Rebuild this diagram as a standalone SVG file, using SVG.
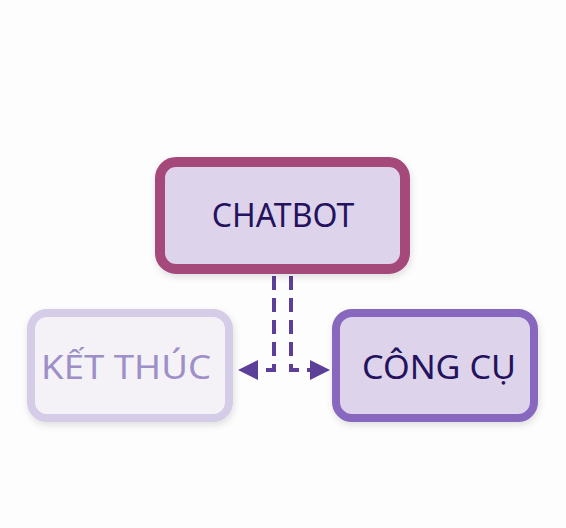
<svg xmlns="http://www.w3.org/2000/svg" width="566" height="528" viewBox="0 0 566 528">
<defs>
<filter id="sh" x="-10%" y="-10%" width="130%" height="140%">
<feDropShadow dx="1" dy="3" stdDeviation="3.5" flood-color="#000" flood-opacity="0.12"/>
</filter>
<marker id="ah" viewBox="0 0 10 10" refX="9" refY="5" markerWidth="5" markerHeight="5" orient="auto" markerUnits="strokeWidth">
<path d="M0,0 L10,5 L0,10 Z" fill="#5B3F99"/>
</marker>
<style>
.lbl{font-family:"Noto Sans","Open Sans","DejaVu Sans",sans-serif;font-size:32px;text-anchor:middle}
.side{font-size:33px}
.con{fill:none;stroke:#5B3F99;stroke-width:4;stroke-dasharray:14 8}
</style>
</defs>
<rect width="566" height="528" fill="#FDFDFE"/>
<g id="connectors">
<path class="con" d="M274,276 V370 H240" marker-end="url(#ah)"/>
<path class="con" d="M291,276 V370 H328" marker-end="url(#ah)"/>
</g>
<g id="chatbot">
<rect x="160" y="162" width="245" height="107" rx="16" fill="#DDD4EB" stroke="#A4497A" stroke-width="10" filter="url(#sh)"/>
<text class="lbl" x="283" y="227" fill="#24125E">CHATBOT</text>
</g>
<g id="ketthuc">
<rect x="31" y="313" width="198" height="105" rx="16" fill="#F4F2F6" stroke="#D5CCE8" stroke-width="8" filter="url(#sh)"/>
<text class="lbl side" x="126" y="379" fill="#9D8FC8" textLength="170" lengthAdjust="spacingAndGlyphs">KẾT THÚC</text>
</g>
<g id="congcu">
<rect x="336" y="313" width="198" height="105" rx="16" fill="#DDD4EB" stroke="#8767BE" stroke-width="8" filter="url(#sh)"/>
<text class="lbl side" x="439" y="379" fill="#24125E" textLength="154" lengthAdjust="spacingAndGlyphs">CÔNG CỤ</text>
</g>
</svg>
